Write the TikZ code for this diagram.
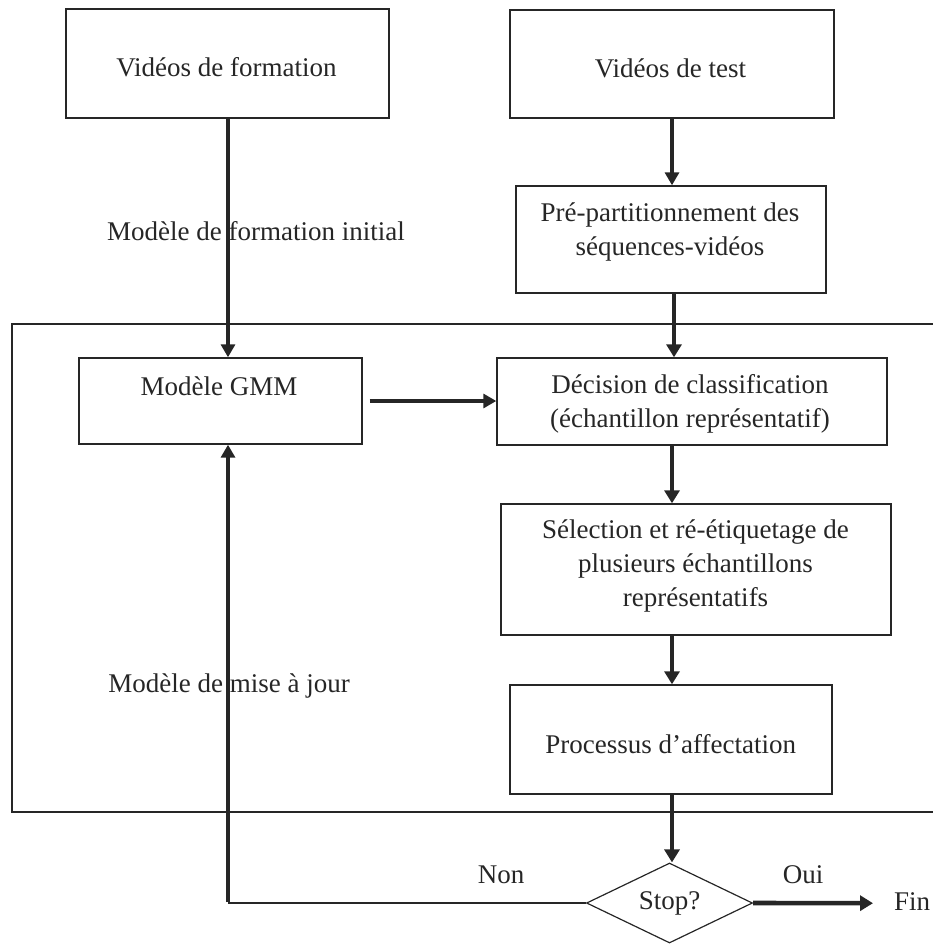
\documentclass[tikz,border=0pt]{standalone}
\usepackage{fontspec}
\setmainfont{Liberation Serif}
\usetikzlibrary{arrows.meta,shapes.geometric}
\definecolor{ink}{gray}{0.15}
\begin{document}
\begin{tikzpicture}[x=1pt,y=-1pt,
  box/.style={draw=ink, line width=1.4pt, inner sep=0pt, rectangle},
  txt/.style={inner sep=0pt, align=center, font=\fontsize{27}{34}\selectfont, text=ink},
  arr/.style={draw=ink, line width=3.2pt, -{Triangle[length=13pt,width=14pt]}},
  arrthick/.style={draw=ink, line width=4.6pt, -{Triangle[length=13pt,width=15pt]}},
  thinline/.style={draw=ink, line width=1.3pt},
]
\useasboundingbox (0,0) rectangle (933,944);

% big frame (open on the right)
\draw[thinline] (933,324) -- (12,324) -- (12,812) -- (933,812);

% boxes
\node[box, minimum width=323pt, minimum height=109pt] (form) at (227.5,63.5) {};
\node[txt] (formt) at (226.5,70.2) {Vidéos de formation\strut};

\node[box, minimum width=324pt, minimum height=108pt] (test) at (672,64) {};
\node[txt] (testt) at (670.5,71.2) {Vidéos de test\strut};

\node[box, minimum width=310pt, minimum height=107pt] (pre) at (671,239.5) {};
\node[txt] (pret) at (670,231.2) {Pré-partitionnement des\strut\\séquences-vidéos\strut};

\node[box, minimum width=283pt, minimum height=86pt] (gmm) at (220.5,401) {};
\node[txt] (gmmt) at (219,388.2) {Modèle GMM\strut};

\node[box, minimum width=390pt, minimum height=87pt] (dec) at (692,401.5) {};
\node[txt] (dect) at (690,403.2) {Décision de classification\strut\\(échantillon représentatif)\strut};

\node[box, minimum width=390pt, minimum height=131pt] (sel) at (696,569.5) {};
\node[txt] (selt) at (695.5,565.2) {Sélection et ré-étiquetage de\strut\\plusieurs échantillons\strut\\représentatifs\strut};

\node[box, minimum width=322pt, minimum height=109pt] (proc) at (671,739.5) {};
\node[txt] (proct) at (670.7,746.2) {Processus d’affectation\strut};

\node[txt, draw=ink, line width=1.2pt, diamond, aspect=2.075,
      minimum width=166pt, minimum height=80pt] (stop) at (669.5,903) {Stop?\strut};

% labels
\node[txt] (initl) at (256,233.2) {Modèle de formation initial\strut};
\node[txt] (majl) at (229,685.2) {Modèle de mise à jour\strut};
\node[txt] (non) at (501,876.2) {Non\strut};
\node[txt] (oui) at (803,876.2) {Oui\strut};
\node[txt] (fin) at (912,903.2) {Fin\strut};

% column coordinates
\coordinate (lcol) at (228,0);
\coordinate (rcol) at (672,0);

% connectors
\draw[arr] (form.south -| lcol) -- (gmm.north -| lcol);
\draw[arr] (test.south -| rcol) -- (pre.north -| rcol);
\draw[arrthick] ([xshift=2pt]pre.south -| rcol) -- ([xshift=2pt]dec.north -| rcol);
\draw[arr] ([xshift=7pt]gmm.east) -- (gmm.east -| dec.west);
\draw[arrthick] (dec.south -| rcol) -- (sel.north -| rcol);
\draw[arrthick] (sel.south -| rcol) -- (proc.north -| rcol);
\draw[arrthick] (proc.south -| rcol) -- (stop.north -| rcol);
\draw[arrthick] (stop.east) -- (fin.west -| 873,0);
\draw[thinline] (stop.west) -- (stop.west -| lcol);
\draw[draw=ink, line width=4pt, -{Triangle[length=13pt,width=14pt]}]
  ([yshift=1pt]stop.west -| lcol) -- (gmm.south -| lcol);
\end{tikzpicture}
\end{document}
